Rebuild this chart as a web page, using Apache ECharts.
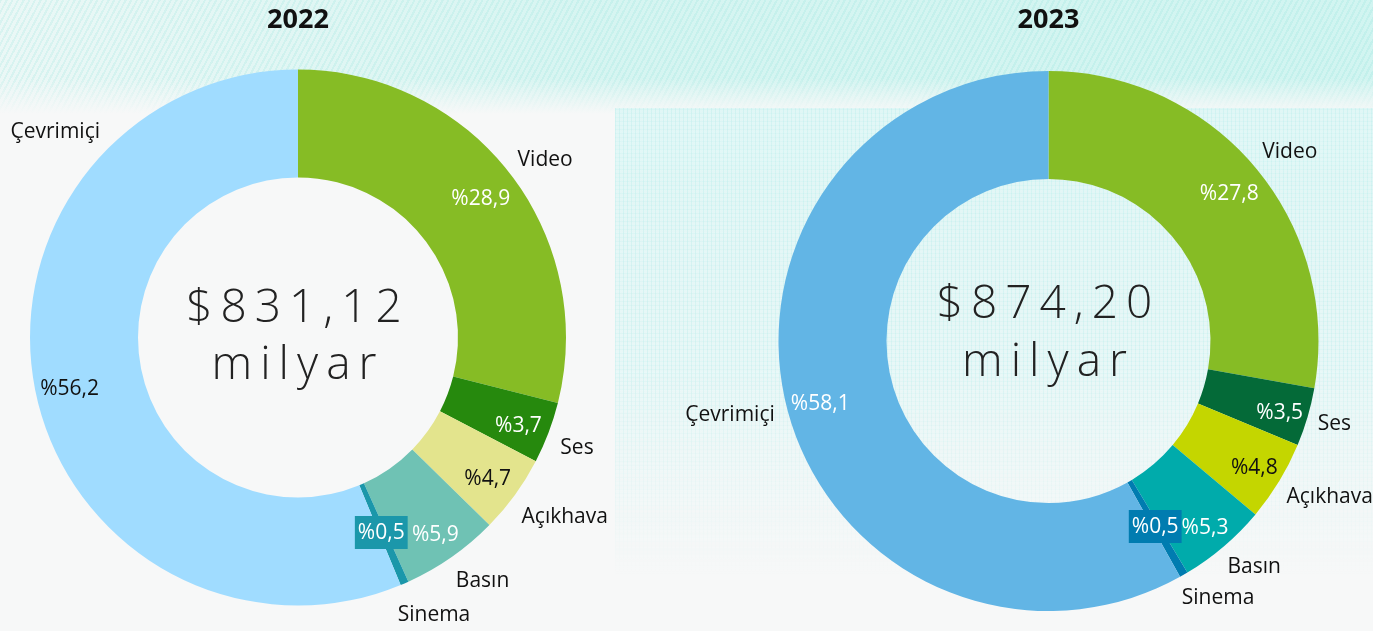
<!DOCTYPE html>
<html>
<head>
<meta charset="utf-8">
<script src="https://cdn.jsdelivr.net/npm/echarts@6/dist/echarts.min.js"></script>
<style>
html,body{margin:0;padding:0;width:1373px;height:631px;overflow:hidden;}
body{
  background-color:#f7f8f8;
  background-image:
    linear-gradient(to bottom, rgba(247,248,248,0) 0px, rgba(247,248,248,0) 78px, rgba(247,248,248,1) 114px),
    repeating-linear-gradient(118deg, rgba(120,220,210,0.16) 0px, rgba(120,220,210,0.16) 2px, rgba(255,255,255,0) 2px, rgba(255,255,255,0) 5px),
    linear-gradient(to right, rgba(222,247,244,0.5) 0px, rgba(208,244,240,0.85) 45%, rgba(205,244,240,0.9) 100%);
  background-size: 100% 114px, 100% 114px, 100% 114px;
  background-position: 0 0, 0 0, 0 0;
  background-repeat: no-repeat;
}
#bg2{position:absolute;left:615px;top:108px;width:758px;height:470px;
  background-image:
    repeating-linear-gradient(90deg, rgba(120,222,218,0.14) 0px, rgba(120,222,218,0.14) 1px, rgba(255,255,255,0) 1px, rgba(255,255,255,0) 4px),
    repeating-linear-gradient(0deg, rgba(120,222,218,0.08) 0px, rgba(120,222,218,0.08) 1px, rgba(255,255,255,0) 1px, rgba(255,255,255,0) 4px),
    linear-gradient(to bottom, rgba(222,246,245,0.9), rgba(232,247,247,0.7));
  -webkit-mask-image: linear-gradient(to bottom, #000 0%, #000 55%, rgba(0,0,0,0) 100%);
  mask-image: linear-gradient(to bottom, #000 0%, #000 55%, rgba(0,0,0,0) 100%);
}
#c,#t{position:absolute;left:0;top:0;width:1373px;height:631px;}
#t{pointer-events:none;}
</style>
</head>
<body>
<div id="bg2"></div>
<div id="c"></div>
<div id="t"></div>
<script>
// ---- data ----
const categories = ['Video', 'Ses', 'Açıkhava', 'Basın', 'Sinema', 'Çevrimiçi'];
const share2022 = [28.9, 3.7, 4.7, 5.9, 0.5, 56.2];
const share2023 = [27.8, 3.5, 4.8, 5.3, 0.5, 58.1];
const years = ['2022', '2023'];
const totals = ['$831,12', '$874,20'];
const totalUnit = 'milyar';

// ---- styles ----
const colors2022 = ['#86BC25', '#26890D', '#E3E48D', '#6FC2B4', '#1B97AA', '#A0DCFF'];
const colors2023 = ['#86BC25', '#046A38', '#C4D600', '#00ABAB', '#007CB0', '#62B5E5'];
const pctText2022 = ['#ffffff', '#ffffff', '#111111', '#ffffff', '#ffffff', '#111111'];
const pctText2023 = ['#ffffff', '#ffffff', '#111111', '#ffffff', '#ffffff', '#ffffff'];

const FONT = '"Open Sans", "Noto Sans", sans-serif';
const fmt = v => '%' + v.toFixed(1).replace('.', ',');

// small hand-placement nudges of the outside name labels (label layout only)
const nameNudge = [
  { 'Video': [-8, -2], 'Ses': [-7, 9], 'Açıkhava': [-10, 12], 'Basın': [-8, 9], 'Sinema': [-16, 15] },
  { 'Video': [-9, -4], 'Ses': [-9, 2], 'Açıkhava': [-10, 6], 'Basın': [-10, 7], 'Sinema': [-13, 8], 'Çevrimiçi': [7, 2] }
];
const pctNudge = [
  { 'Video': [-5, 8], 'Ses': [-2, 4], 'Açıkhava': [-3, 2], 'Basın': [1, 2], 'Çevrimiçi': [5, 5] },
  { 'Video': [-4, 8], 'Ses': [0, 4], 'Açıkhava': [0, 2], 'Basın': [0, 4], 'Çevrimiçi': [5, 2] }
];

const charts = [
  { year: years[0], total: totals[0], values: share2022, colors: colors2022, pctText: pctText2022,
    center: [298, 337.5], r: [160, 268], pctR: 202 },
  { year: years[1], total: totals[1], values: share2023, colors: colors2023, pctText: pctText2023,
    center: [1048.5, 341], r: [162, 270], pctR: 206 }
];

const series = [];
const graphics = [];
charts.forEach((c, ci) => {
  const box = { left: 0, top: 0, width: 3000, height: 631 };
  // main ring
  series.push(Object.assign({
    type: 'pie', name: c.year, center: c.center, radius: c.r, startAngle: 90, clockwise: true,
    avoidLabelOverlap: false, silent: true, animation: false,
    label: { show: false }, labelLine: { show: false },
    itemStyle: { borderWidth: 0 },
    labelLayout: function () { return { dx: -3, dy: -4 }; },
    data: categories.map((n, i) => {
      const d = { name: n, value: c.values[i], itemStyle: { color: c.colors[i] } };
      if (n === 'Sinema') {
        d.label = { show: true, position: 'inside', formatter: p => fmt(p.value),
          color: '#ffffff', fontFamily: FONT, fontSize: 21, backgroundColor: c.colors[i], padding: [6, 3, 6, 3] };
      }
      return d;
    })
  }, box));
  // percentage labels
  series.push(Object.assign({
    type: 'pie', name: c.year + ' %', center: c.center, radius: [c.pctR, c.r[1]], startAngle: 90, clockwise: true,
    avoidLabelOverlap: false, silent: true, animation: false,
    itemStyle: { color: 'rgba(0,0,0,0)' },
    labelLine: { show: false },
    label: { show: true, position: 'inside', fontFamily: FONT, fontSize: 21, formatter: p => fmt(p.value) },
    labelLayout: function (p) {
      const k = pctNudge[ci][categories[p.dataIndex]];
      return k ? { dx: k[0], dy: k[1] } : {};
    },
    data: categories.map((n, i) => ({
      name: n, value: c.values[i],
      label: { show: n !== 'Sinema', color: c.pctText[i] }
    }))
  }, box));
  // name labels
  series.push(Object.assign({
    type: 'pie', name: c.year + ' names', center: c.center, radius: c.r, startAngle: 90, clockwise: true,
    avoidLabelOverlap: false, silent: true, animation: false,
    itemStyle: { color: 'rgba(0,0,0,0)' },
    labelLine: { show: false, length: 18, length2: 0 },
    label: { show: true, position: 'outside', fontFamily: FONT, fontSize: 21, color: '#111111',
      distanceToLabelLine: 2, formatter: '{b}' },
    labelLayout: function (p) {
      const n = categories[p.dataIndex];
      if (ci === 0 && n === 'Çevrimiçi') {
        const a = 316 * Math.PI / 180;
        return { x: c.center[0] + 285 * Math.sin(a), y: c.center[1] - 285 * Math.cos(a), align: 'right' };
      }
      const k = nameNudge[ci][n];
      return k ? { dx: k[0], dy: k[1] } : {};
    },
    data: categories.map((n, i) => ({ name: n, value: c.values[i] }))
  }, box));

  graphics.push({ type: 'text', x: c.center[0], y: 20, silent: true,
    style: { text: c.year, font: 'bold 27px ' + FONT, fill: '#111111', align: 'center', verticalAlign: 'middle' } });
});

const chart = echarts.init(document.getElementById('c'), null, { renderer: 'canvas' });
chart.setOption({
  animation: false,
  backgroundColor: 'transparent',
  series: series,
  graphic: graphics
});

// centre totals, drawn in their own layer with letter spacing
const centreTexts = [
  { x: charts[0].center[0], y: 309, text: charts[0].total },
  { x: charts[0].center[0], y: 366, text: totalUnit },
  { x: charts[1].center[0], y: 305, text: charts[1].total },
  { x: charts[1].center[0], y: 363, text: totalUnit }
];
const tEl = document.getElementById('t');
const tChart = echarts.init(tEl, null, { renderer: 'canvas' });
const tCanvas = () => tEl.querySelector('canvas');
(function () {
  const proto = CanvasRenderingContext2D.prototype;
  const orig = proto.fillText;
  proto.fillText = function (t, x, y, w) {
    if (this.canvas === tCanvas() && ('letterSpacing' in this)) {
      this.letterSpacing = '8px';
    }
    return (w === undefined) ? orig.call(this, t, x, y) : orig.call(this, t, x, y, w);
  };
})();
tChart.setOption({
  animation: false,
  backgroundColor: 'transparent',
  graphic: centreTexts.map(o => ({ type: 'text', x: o.x, y: o.y, silent: true,
    style: { text: o.text, font: '300 46px ' + FONT, fill: '#222222', align: 'center', verticalAlign: 'middle' } }))
});
</script>
</body>
</html>
